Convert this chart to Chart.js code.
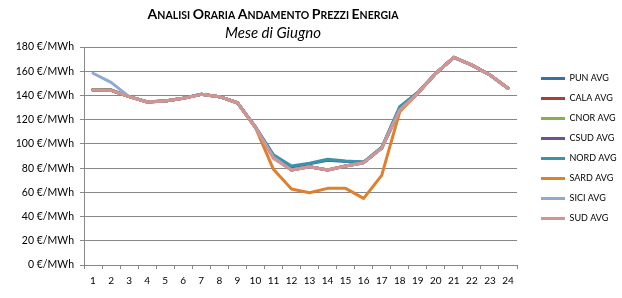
<!DOCTYPE html>
<html>
<head>
<meta charset="utf-8">
<script src="https://cdn.jsdelivr.net/npm/chart.js@4"></script>
<style>
  html, body { margin: 0; padding: 0; background: #fff; }
  #wrap { width: 622px; height: 298px; }
</style>
</head>
<body>
<div id="wrap"><canvas id="prezziChart" width="622" height="298"></canvas></div>
<script>
// ore del giorno
const ore = ['1','2','3','4','5','6','7','8','9','10','11','12','13','14','15','16','17','18','19','20','21','22','23','24'];

// prezzi medi orari (€/MWh)
const punAvg  = [145, 144.5, 139, 134.8, 135.5, 137.8, 141, 139, 134, 114, 90.5, 81, 83.5, 86.5, 85.5, 85, 97, 130, 142.5, 158.3, 171.5, 165, 157, 146];
const calaAvg = [144.5, 144.2, 139, 134.6, 135.4, 137.6, 140.9, 139, 134, 113.7, 89, 78.4, 81.2, 78.4, 81.7, 84.5, 96.5, 128, 141.8, 158.3, 171.5, 165, 156.9, 145.9];
const cnorAvg = [144.5, 144.2, 139, 134.6, 135.4, 137.6, 140.9, 139, 134, 113.7, 89, 78.4, 81.2, 78.4, 81.7, 84.5, 96.5, 128, 141.8, 158.3, 171.5, 165, 156.9, 145.9];
const csudAvg = [144.5, 144.2, 139, 134.6, 135.4, 137.6, 140.9, 139, 134, 113.7, 89, 78.4, 81.2, 78.4, 81.7, 84.5, 96.5, 128, 141.8, 158.3, 171.5, 165, 156.9, 145.9];
const nordAvg = [145, 144.5, 139, 134.8, 135.5, 137.8, 141, 139, 134, 114, 91, 81.7, 84, 87.3, 85.9, 85, 97, 130.7, 142.5, 158.3, 171.5, 165, 157, 146];
const sardAvg = [144.5, 144.2, 139, 134.6, 135.4, 137.6, 140.9, 139, 134, 113.7, 79, 62.7, 59.7, 63.3, 63.3, 55, 74, 126.5, 141.8, 158.3, 171.5, 165, 156.9, 145.9];
const siciAvg = [158.3, 150.8, 139, 134.6, 135.4, 137.6, 140.9, 139, 134, 113.7, 89, 78.4, 81.2, 78.4, 81.7, 84.5, 96.5, 128, 141.8, 158.3, 171.5, 165, 156.9, 145.9];
const sudAvg  = [144.5, 144.2, 139, 134.6, 135.4, 137.6, 140.9, 139, 134, 113.7, 88, 78.4, 81.2, 78.4, 81.7, 84.5, 96.5, 128, 141.8, 158.3, 171.5, 165, 156.9, 145.9];

const zone = ['PUN AVG', 'CALA AVG', 'CNOR AVG', 'CSUD AVG', 'NORD AVG', 'SARD AVG', 'SICI AVG', 'SUD AVG'];
const serie = [punAvg, calaAvg, cnorAvg, csudAvg, nordAvg, sardAvg, siciAvg, sudAvg];
const colori = ['#3e6da4', '#a5403c', '#8aae4e', '#6c5290', '#3b93aa', '#e07f2e', '#8fa8d4', '#d29593'];

const yMin = 0;
const yMax = 180;
const yStep = 20;
const unita = ' €/MWh';

const titolo = 'Analisi Oraria Andamento Prezzi Energia';
const sottotitolo = 'Mese di Giugno';

const FONT = 'Lato, "Open Sans", sans-serif';
const GRIGIO = '#878787';

// titolo in maiuscoletto come in Excel
const titoloPlugin = {
    id: 'titoloExcel',
    afterDraw(chart) {
        const ctx = chart.ctx;
        const cx = 273;
        const grande = 'bold 14px ' + FONT;
        const piccolo = 'bold 10.5px ' + FONT;
        const pezzi = [];
        titolo.split(' ').forEach((parola, i) => {
            if (i > 0) pezzi.push({ t: ' ', f: piccolo });
            pezzi.push({ t: parola[0].toUpperCase(), f: grande });
            pezzi.push({ t: parola.slice(1).toUpperCase(), f: piccolo });
        });
        ctx.save();
        ctx.fillStyle = '#000';
        ctx.textBaseline = 'alphabetic';
        ctx.textAlign = 'left';
        let tot = 0;
        pezzi.forEach(p => { ctx.font = p.f; p.w = ctx.measureText(p.t).width; tot += p.w; });
        let x = cx - tot / 2;
        pezzi.forEach(p => { ctx.font = p.f; ctx.fillText(p.t, x, 18.5); x += p.w; });

        ctx.font = 'italic 15px ' + FONT;
        ctx.textAlign = 'center';
        ctx.fillText(sottotitolo, cx, 38);
        ctx.restore();
    }
};

function creaDatasets() {
    return zone.map((nome, i) => ({
        label: nome,
        data: serie[i],
        borderColor: colori[i],
        backgroundColor: colori[i],
        borderWidth: 3,
        pointRadius: 0,
        pointHoverRadius: 0,
        tension: 0,
        borderJoinStyle: 'round',
        borderCapStyle: 'round',
        // in Excel l'ultima serie sta sopra
        order: zone.length - i
    }));
}

const ctx = document.getElementById('prezziChart').getContext('2d');
new Chart(ctx, {
    type: 'line',
    data: {
        labels: ore,
        datasets: creaDatasets()
    },
    options: {
        responsive: false,
        animation: false,
        layout: { padding: { top: 47, left: 0, right: 0, bottom: 0 } },
        scales: {
            x: {
                offset: true,
                grid: {
                    offset: true,
                    drawOnChartArea: false,
                    drawTicks: true,
                    tickLength: 4,
                    color: GRIGIO
                },
                border: { color: GRIGIO },
                ticks: {
                    color: '#000',
                    font: { family: FONT, size: 10 },
                    padding: 6,
                    maxRotation: 0,
                    autoSkip: false
                },
                afterFit: s => { s.height = 33; }
            },
            y: {
                min: yMin,
                max: yMax,
                grid: {
                    color: GRIGIO,
                    tickLength: 4
                },
                border: { color: GRIGIO },
                ticks: {
                    stepSize: yStep,
                    color: '#000',
                    font: { family: FONT, size: 10.5 },
                    padding: 6,
                    callback: v => v + unita
                },
                afterFit: s => { s.width = 84; }
            },
            spazio: {
                type: 'linear',
                position: 'right',
                grid: { display: false },
                border: { display: false },
                ticks: { display: false },
                afterFit: s => { s.width = 13; }
            }
        },
        plugins: {
            title: { display: false },
            tooltip: { enabled: false },
            legend: {
                position: 'right',
                align: 'start',
                fullSize: false,
                maxWidth: 92,
                title: { display: true, text: '', padding: 2, font: { size: 10 } },
                labels: {
                    boxWidth: 24,
                    boxHeight: 3,
                    padding: 11,
                    color: '#000',
                    font: { family: FONT, size: 9 },
                    sort: (a, b) => a.datasetIndex - b.datasetIndex,
                    generateLabels: chart => {
                        const items = Chart.defaults.plugins.legend.labels.generateLabels(chart);
                        items.forEach(it => { it.lineWidth = 0; });
                        return items;
                    }
                }
            }
        }
    },
    plugins: [titoloPlugin]
});
</script>
</body>
</html>
